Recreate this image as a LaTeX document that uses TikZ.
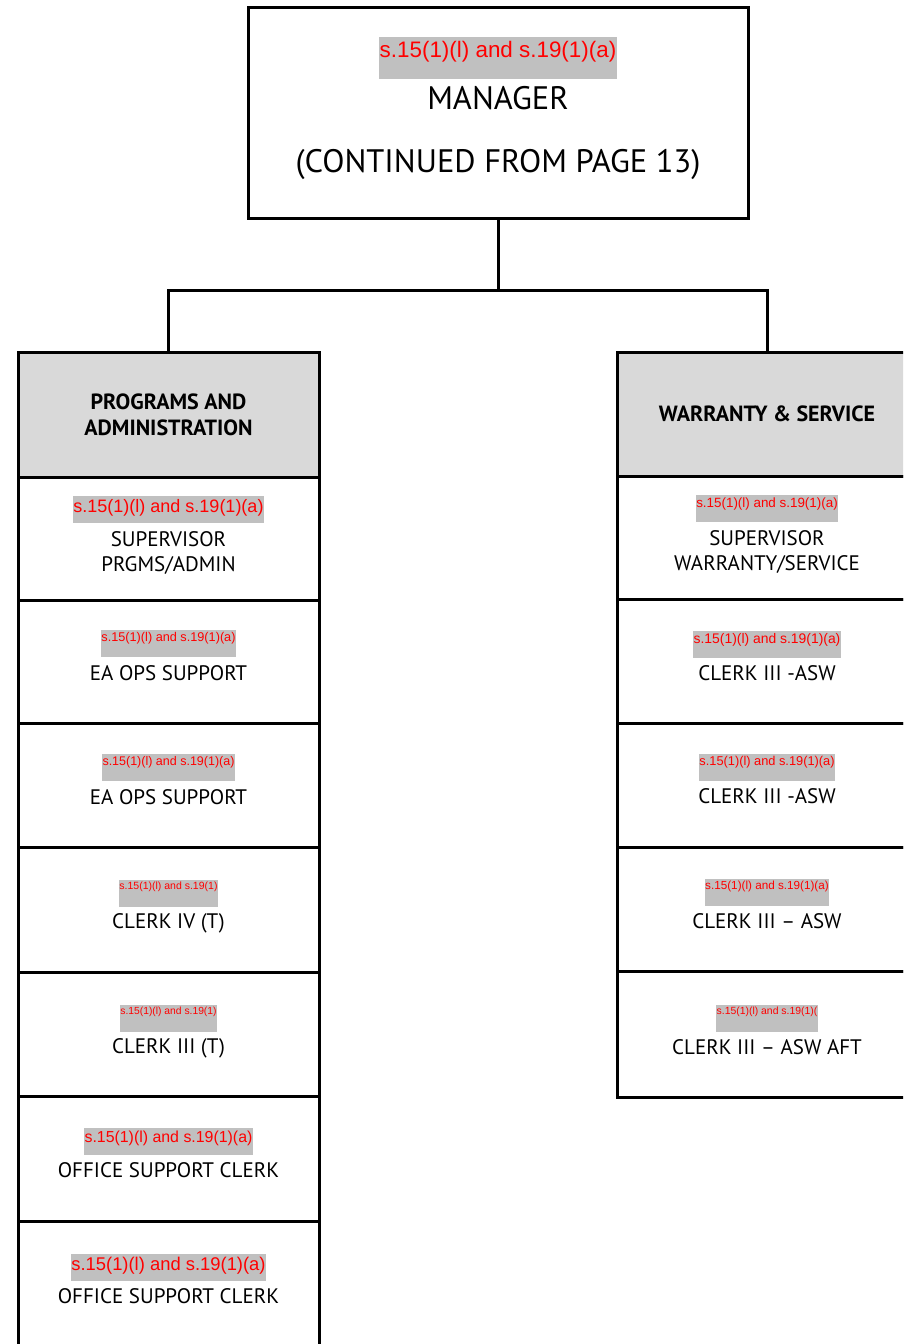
\documentclass[tikz,border=0pt]{standalone}
\usepackage{fontspec}
\setmainfont{PT Sans}
\newfontfamily\redfont{Liberation Sans}
\usepackage{tikz}
\usetikzlibrary{positioning}
\definecolor{headgray}{RGB}{217,217,217}
\definecolor{redgray}{RGB}{192,192,192}
\definecolor{redtext}{RGB}{255,0,0}

\tikzset{
  orgbox/.style={draw, line width=3pt, outer sep=0pt, inner sep=0pt, minimum width=301pt},
  headbox/.style={orgbox, fill=headgray},
  link/.style={line width=3pt},
  jobtext/.style={inner sep=0pt, align=center, font=\fontsize{21}{25}\selectfont},
  headtext/.style={inner sep=0pt, align=center, font=\fontsize{22}{26}\selectfont\bfseries},
  redact/.style={fill=redgray, text=redtext, inner xsep=0.5pt, inner ysep=0pt,
    font=\redfont\fontsize{#1}{#1}\selectfont,
    text height=\dimexpr#1pt*9/10\relax, text depth=\dimexpr27pt-#1pt*9/10\relax}
}

\begin{document}
\begin{tikzpicture}[x=1pt, y=-1pt]
\clip (0,0) rectangle (903,1344);

\node[orgbox, minimum width=500pt, minimum height=211pt] (mgr) at (498,112.5) {};
\node[redact=22.4, text depth=22pt] (mgrr) [below=30pt of mgr.north] {s.15(1)(l) and s.19(1)(a)};
\node[jobtext, font=\fontsize{32.5}{63}\selectfont] (mgrt) [below=7pt of mgrr] {MANAGER\\(CONTINUED FROM PAGE 13)};

\node[headbox, minimum height=125pt] (lhead) at (168.5,414.5) {};
\node[headtext] (lheadt) at (lhead) {PROGRAMS AND\\ADMINISTRATION};

\node[headbox, minimum width=300pt, minimum height=124pt] (rhead) at (767,414) {};
\node[headtext] (rheadt) at (rhead) {WARRANTY \& SERVICE};

\coordinate (bus) at (498,290);
\draw[link] (mgr.south) -- (bus);
\draw[link] (lhead.north) |- (bus) -| (rhead.north);

\node[orgbox, minimum height=123pt] (l1) at (168.5,538.5) {};
\node[redact=18] (l1r) [below=19pt of l1.north] {s.15(1)(l) and s.19(1)(a)};
\node[jobtext] (l1t) [below=8pt of l1r] {SUPERVISOR\\PRGMS/ADMIN};

\node[orgbox, minimum height=123pt] (l2) at (168.5,661.5) {};
\node[redact=12.7] (l2r) [below=30pt of l2.north] {s.15(1)(l) and s.19(1)(a)};
\node[jobtext] (l2t) [below=8pt of l2r] {EA OPS SUPPORT};

\node[orgbox, minimum height=124pt] (l3) at (168.5,785) {};
\node[redact=12.5] (l3r) [below=31pt of l3.north] {s.15(1)(l) and s.19(1)(a)};
\node[jobtext] (l3t) [below=8pt of l3r] {EA OPS SUPPORT};

\node[orgbox, minimum height=125pt] (l4) at (168.5,909.5) {};
\node[redact=10.5] (l4r) [below=33pt of l4.north] {s.15(1)(l) and s.19(1)};
\node[jobtext] (l4t) [below=6pt of l4r] {CLERK IV (T)};

\node[orgbox, minimum height=124pt] (l5) at (168.5,1034) {};
\node[redact=10.3] (l5r) [below=33pt of l5.north] {s.15(1)(l) and s.19(1)};
\node[jobtext] (l5t) [below=6pt of l5r] {CLERK III (T)};

\node[orgbox, minimum height=125pt] (l6) at (168.5,1158.5) {};
\node[redact=15.9] (l6r) [below=32pt of l6.north] {s.15(1)(l) and s.19(1)(a)};
\node[jobtext] (l6t) [below=7pt of l6r] {OFFICE SUPPORT CLERK};

\node[orgbox, minimum height=139pt] (l7) at (168.5,1290.5) {};
\node[redact=18.4] (l7r) [below=33pt of l7.north] {s.15(1)(l) and s.19(1)(a)};
\node[jobtext] (l7t) [below=7pt of l7r] {OFFICE SUPPORT CLERK};

\node[orgbox, minimum width=300pt, minimum height=123pt] (r1) at (767,537.5) {};
\node[redact=13.4] (r1r) [below=19pt of r1.north] {s.15(1)(l) and s.19(1)(a)};
\node[jobtext] (r1t) [below=8pt of r1r] {SUPERVISOR\\WARRANTY/SERVICE};

\node[orgbox, minimum width=300pt, minimum height=124pt] (r2) at (767,661) {};
\node[redact=13.9] (r2r) [below=32pt of r2.north] {s.15(1)(l) and s.19(1)(a)};
\node[jobtext] (r2t) [below=7pt of r2r] {CLERK III -ASW};

\node[orgbox, minimum width=300pt, minimum height=124pt] (r3) at (767,785) {};
\node[redact=12.8] (r3r) [below=31pt of r3.north] {s.15(1)(l) and s.19(1)(a)};
\node[jobtext] (r3t) [below=7pt of r3r] {CLERK III -ASW};

\node[orgbox, minimum width=300pt, minimum height=124pt] (r4) at (767,909) {};
\node[redact=11.7] (r4r) [below=32pt of r4.north] {s.15(1)(l) and s.19(1)(a)};
\node[jobtext] (r4t) [below=7pt of r4r] {CLERK III -- ASW};

\node[orgbox, minimum width=300pt, minimum height=126pt] (r5) at (767,1034) {};
\node[redact=10.4] (r5r) [below=34pt of r5.north] {s.15(1)(l) and s.19(1)(};
\node[jobtext] (r5t) [below=7pt of r5r] {CLERK III -- ASW AFT};
\end{tikzpicture}
\end{document}
